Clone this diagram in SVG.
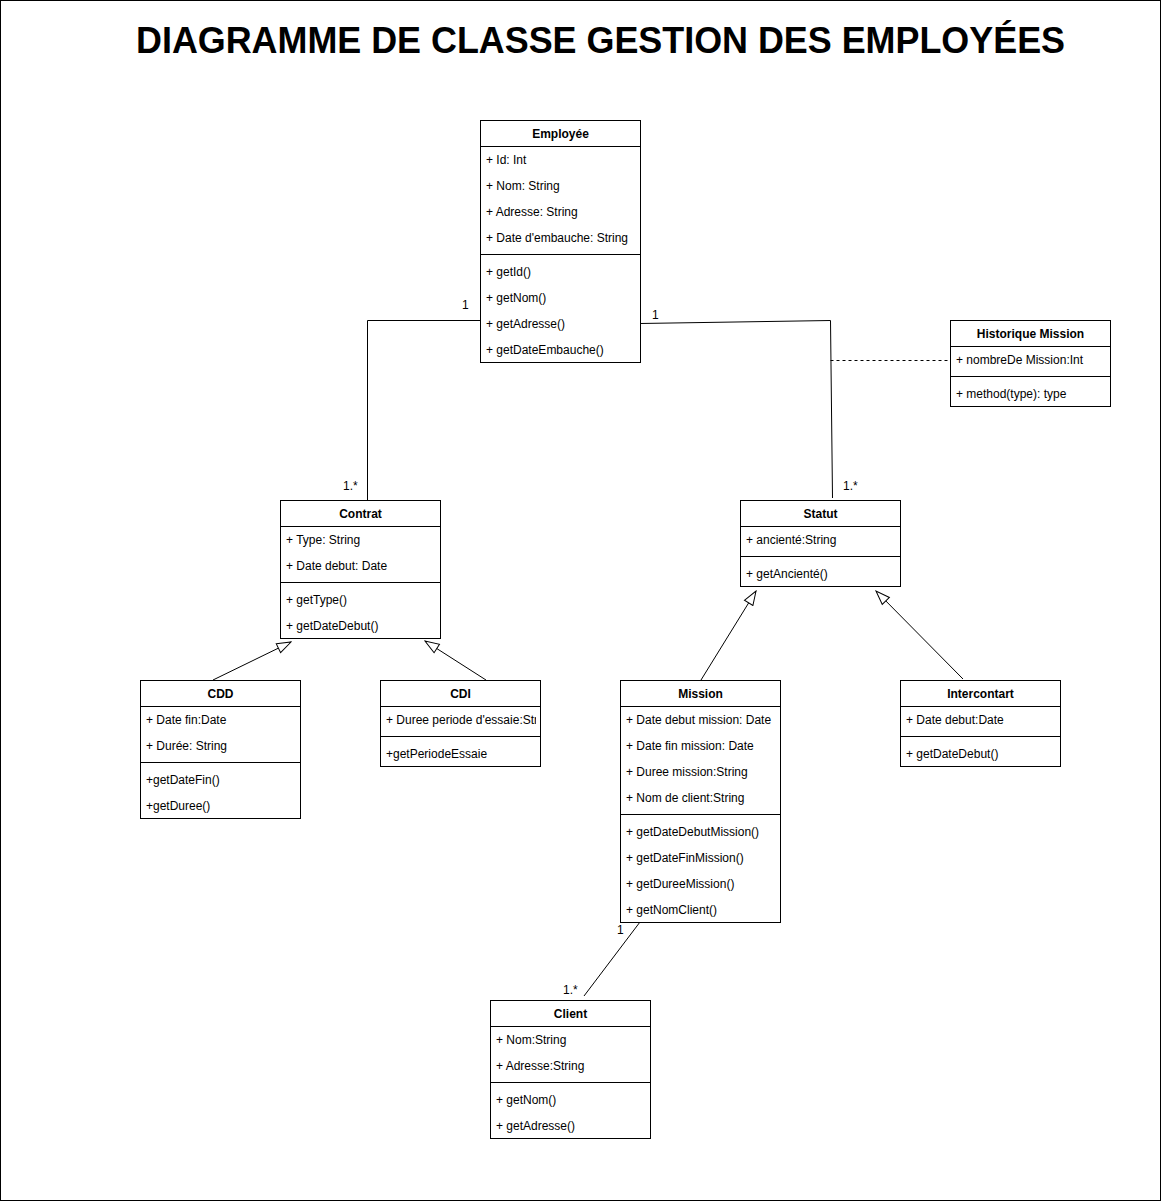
<svg xmlns="http://www.w3.org/2000/svg" width="1162" height="1202" viewBox="0 0 1162 1202">
<style>
.box{fill:#fff;stroke:#000;stroke-width:1}
.sep{stroke:#000;stroke-width:1}
.hd{font-family:"Liberation Sans",Arial,sans-serif;font-size:12px;font-weight:bold;text-anchor:middle;fill:#000}
.t{font-family:"Liberation Sans",Arial,sans-serif;font-size:12px;fill:#000}
.ln{fill:none;stroke:#000;stroke-width:1}
.title{font-family:"Liberation Sans",Arial,sans-serif;font-size:36px;font-weight:bold;fill:#000}
</style>
<defs>
<marker id="tri" viewBox="0 0 16 12" refX="15" refY="6" markerWidth="16" markerHeight="12" markerUnits="userSpaceOnUse" orient="auto">
<path d="M1,1 L15,6 L1,11 Z" fill="#fff" stroke="#000" stroke-width="1"/>
</marker>
<clipPath id="cdiclip"><rect x="380" y="706" width="156" height="30"/></clipPath>
</defs>
<rect x="0.5" y="0.5" width="1160" height="1200" fill="#fff" stroke="#000"/>
<text class="title" x="136" y="53" textLength="929" lengthAdjust="spacingAndGlyphs">DIAGRAMME DE CLASSE GESTION DES EMPLOYÉES</text>

<g id="connectors">
<polyline class="ln" points="480.5,320.5 367.5,320.5 367.5,500"/>
<polyline class="ln" points="640,323.5 830.5,320.5 832.5,498"/>
<line class="ln" x1="830.5" y1="360.5" x2="950" y2="360.5" stroke-dasharray="3,3"/>
<line class="ln" x1="213" y1="680" x2="291" y2="642" marker-end="url(#tri)"/>
<line class="ln" x1="486" y1="680" x2="425" y2="641" marker-end="url(#tri)"/>
<line class="ln" x1="701" y1="680" x2="756" y2="591" marker-end="url(#tri)"/>
<line class="ln" x1="963" y1="679" x2="876" y2="591" marker-end="url(#tri)"/>
<line class="ln" x1="640" y1="922" x2="584" y2="996"/>
<text class="t" x="462" y="309">1</text>
<text class="t" x="652" y="319">1</text>
<text class="t" x="343" y="490">1.*</text>
<text class="t" x="843" y="490">1.*</text>
<text class="t" x="617" y="934">1</text>
<text class="t" x="563" y="994">1.*</text>
</g>

<g id="employee">
<rect class="box" x="480.5" y="120.5" width="160" height="242"/>
<line class="sep" x1="480.5" y1="146.5" x2="640.5" y2="146.5"/>
<line class="sep" x1="480.5" y1="254.5" x2="640.5" y2="254.5"/>
<text class="hd" x="560.5" y="138">Employée</text>
<text class="t" x="486" y="164">+ Id: Int</text>
<text class="t" x="486" y="190">+ Nom: String</text>
<text class="t" x="486" y="216">+ Adresse: String</text>
<text class="t" x="486" y="242">+ Date d'embauche: String</text>
<text class="t" x="486" y="276">+ getId()</text>
<text class="t" x="486" y="302">+ getNom()</text>
<text class="t" x="486" y="328">+ getAdresse()</text>
<text class="t" x="486" y="354">+ getDateEmbauche()</text>
</g>

<g id="historique">
<rect class="box" x="950.5" y="320.5" width="160" height="86"/>
<line class="sep" x1="950.5" y1="346.5" x2="1110.5" y2="346.5"/>
<line class="sep" x1="950.5" y1="376.5" x2="1110.5" y2="376.5"/>
<text class="hd" x="1030.5" y="338">Historique Mission</text>
<text class="t" x="956" y="364">+ nombreDe Mission:Int</text>
<text class="t" x="956" y="398">+ method(type): type</text>
</g>

<g id="contrat">
<rect class="box" x="280.5" y="500.5" width="160" height="138"/>
<line class="sep" x1="280.5" y1="526.5" x2="440.5" y2="526.5"/>
<line class="sep" x1="280.5" y1="582.5" x2="440.5" y2="582.5"/>
<text class="hd" x="360.5" y="518">Contrat</text>
<text class="t" x="286" y="544">+ Type: String</text>
<text class="t" x="286" y="570">+ Date debut: Date</text>
<text class="t" x="286" y="604">+ getType()</text>
<text class="t" x="286" y="630">+ getDateDebut()</text>
</g>

<g id="statut">
<rect class="box" x="740.5" y="500.5" width="160" height="86"/>
<line class="sep" x1="740.5" y1="526.5" x2="900.5" y2="526.5"/>
<line class="sep" x1="740.5" y1="556.5" x2="900.5" y2="556.5"/>
<text class="hd" x="820.5" y="518">Statut</text>
<text class="t" x="746" y="544">+ ancienté:String</text>
<text class="t" x="746" y="578">+ getAncienté()</text>
</g>

<g id="cdd">
<rect class="box" x="140.5" y="680.5" width="160" height="138"/>
<line class="sep" x1="140.5" y1="706.5" x2="300.5" y2="706.5"/>
<line class="sep" x1="140.5" y1="762.5" x2="300.5" y2="762.5"/>
<text class="hd" x="220.5" y="698">CDD</text>
<text class="t" x="146" y="724">+ Date fin:Date</text>
<text class="t" x="146" y="750">+ Durée: String</text>
<text class="t" x="146" y="784">+getDateFin()</text>
<text class="t" x="146" y="810">+getDuree()</text>
</g>

<g id="cdi">
<rect class="box" x="380.5" y="680.5" width="160" height="86"/>
<line class="sep" x1="380.5" y1="706.5" x2="540.5" y2="706.5"/>
<line class="sep" x1="380.5" y1="736.5" x2="540.5" y2="736.5"/>
<text class="hd" x="460.5" y="698">CDI</text>
<text class="t" x="386" y="724" clip-path="url(#cdiclip)">+ Duree periode d'essaie:String</text>
<text class="t" x="386" y="758">+getPeriodeEssaie</text>
</g>

<g id="mission">
<rect class="box" x="620.5" y="680.5" width="160" height="242"/>
<line class="sep" x1="620.5" y1="706.5" x2="780.5" y2="706.5"/>
<line class="sep" x1="620.5" y1="814.5" x2="780.5" y2="814.5"/>
<text class="hd" x="700.5" y="698">Mission</text>
<text class="t" x="626" y="724">+ Date debut mission: Date</text>
<text class="t" x="626" y="750">+ Date fin mission: Date</text>
<text class="t" x="626" y="776">+ Duree mission:String</text>
<text class="t" x="626" y="802">+ Nom de client:String</text>
<text class="t" x="626" y="836">+ getDateDebutMission()</text>
<text class="t" x="626" y="862">+ getDateFinMission()</text>
<text class="t" x="626" y="888">+ getDureeMission()</text>
<text class="t" x="626" y="914">+ getNomClient()</text>
</g>

<g id="intercontart">
<rect class="box" x="900.5" y="680.5" width="160" height="86"/>
<line class="sep" x1="900.5" y1="706.5" x2="1060.5" y2="706.5"/>
<line class="sep" x1="900.5" y1="736.5" x2="1060.5" y2="736.5"/>
<text class="hd" x="980.5" y="698">Intercontart</text>
<text class="t" x="906" y="724">+ Date debut:Date</text>
<text class="t" x="906" y="758">+ getDateDebut()</text>
</g>

<g id="client">
<rect class="box" x="490.5" y="1000.5" width="160" height="138"/>
<line class="sep" x1="490.5" y1="1026.5" x2="650.5" y2="1026.5"/>
<line class="sep" x1="490.5" y1="1082.5" x2="650.5" y2="1082.5"/>
<text class="hd" x="570.5" y="1018">Client</text>
<text class="t" x="496" y="1044">+ Nom:String</text>
<text class="t" x="496" y="1070">+ Adresse:String</text>
<text class="t" x="496" y="1104">+ getNom()</text>
<text class="t" x="496" y="1130">+ getAdresse()</text>
</g>
</svg>
